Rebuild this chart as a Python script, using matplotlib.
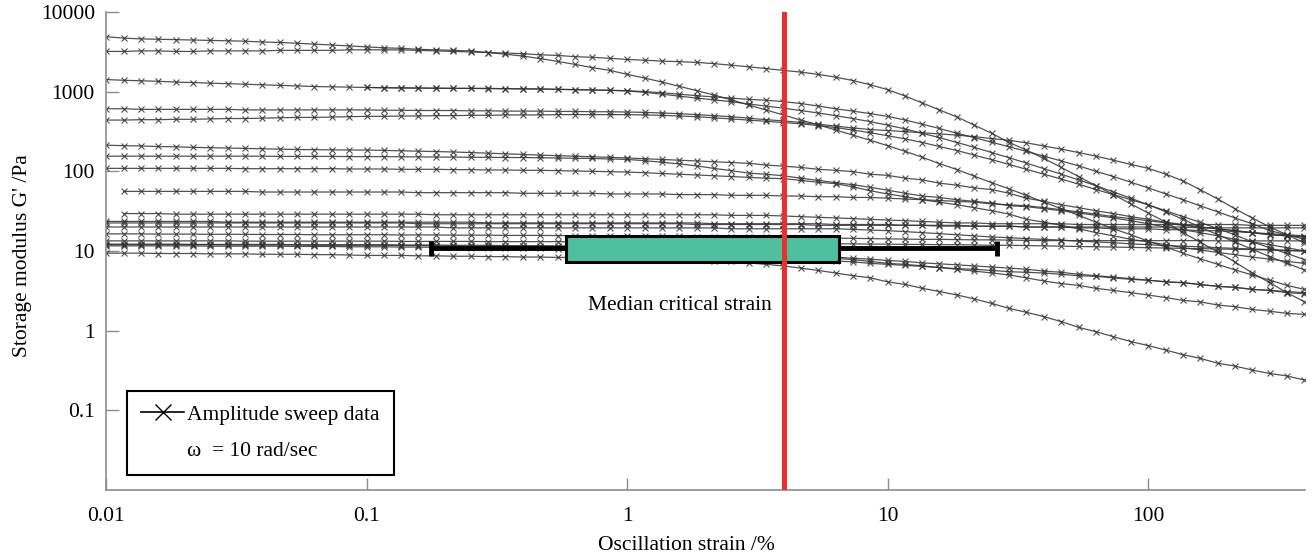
import numpy as np
import matplotlib
matplotlib.use("Agg")
import matplotlib.pyplot as plt
from matplotlib.patches import Rectangle
from matplotlib.lines import Line2D
from matplotlib.ticker import NullLocator

# ==========================
# Data
# ==========================
strain = [0.01, 0.0117, 0.0136, 0.0158, 0.0185, 0.0215, 0.0251, 0.0293, 0.0341, 0.0398, 0.0464, 0.0541, 0.0631, 0.0736, 0.0858,
          0.1, 0.117, 0.136, 0.158, 0.185, 0.215, 0.251, 0.293, 0.341, 0.398, 0.464, 0.541, 0.631, 0.736, 0.858,
          1.0, 1.17, 1.36, 1.58, 1.85, 2.15, 2.51, 2.93, 3.41, 3.98, 4.64, 5.41, 6.31, 7.36, 8.58,
          10, 11.7, 13.6, 15.8, 18.5, 21.5, 25.1, 29.3, 34.1, 39.8, 46.4, 54.1, 63.1, 73.6, 85.8,
          100, 117, 136, 158, 185, 215, 251, 293, 341, 398]

g_a = [4900, 4700, 4600, 4550, 4500, 4450, 4400, 4350, 4300, 4200, 4150, 4050, 3950, 3850, 3750,
       3650, 3550, 3500, 3400, 3350, 3300, 3250, 3100, 2950, 2800, 2600, 2400, 2200, 2000, 1850,
       1650, 1480, 1320, 1170, 1030, 910, 790, 680, 590, 510, 440, 385, 330, 285, 245,
       210, 178, 150, 125, 105, 87, 72, 60, 50, 41, 34, 28, 23, 19, 16,
       13.3, 11.2, 9.4, 8, 6.8, 5.8, 5, 4.3, 3.7, 3.3]
g_b = [3200, 3200, 3250, 3250, 3200, 3200, 3250, 3250, 3250, 3250, 3300, 3300, 3300, 3300, 3350,
       3350, 3350, 3350, 3300, 3250, 3200, 3150, 3100, 3050, 3000, 2900, 2850, 2750, 2700, 2620,
       2540, 2480, 2420, 2380, 2330, 2250, 2150, 2050, 1950, 1850, 1760, 1650, 1520, 1380, 1220,
       1060, 880, 720, 590, 480, 380, 300, 230, 185, 145, 112, 86, 66, 51, 39,
       30, 23, 17, 13, 9.7, 7.3, 5.3, 4.0, 3.0, 2.3]
g_c = [1420, 1390, 1370, 1350, 1320, 1300, 1280, 1260, 1240, 1220, 1200, 1180, 1160, 1150, 1140,
       1130, 1120, 1110, 1110, 1100, 1100, 1100, 1090, 1090, 1080, 1080, 1070, 1060, 1050, 1040,
       1030, 1000, 970, 930, 890, 860, 830, 800, 780, 750, 710, 660, 610, 570, 530,
       490, 440, 390, 345, 300, 265, 232, 203, 178, 155, 135, 117, 100, 86, 73,
       62, 52, 44, 37, 31, 26, 22, 18, 16, 14]
g_c2 = [None, None, None, None, None, None, None, None, None, None, None, None, None, None, None,
        1130, 1120, 1120, 1110, 1110, 1100, 1100, 1100, 1090, 1090, 1080, 1070, 1060, 1050, 1040,
        1020, 980, 930, 880, 830, 790, 750, 700, 660, 620, 580, 540, 500, 460, 420,
        380, 340, 300, 265, 230, 200, 172, 148, 127, 108, 92, 78, 66, 55, 46,
        38, 31, 25, 20, 16, 13, 10.5, 8.5, 7, 5.8]
g_e = [610, 610, 600, 600, 600, 600, 600, 600, 590, 590, 590, 590, 590, 590, 590,
       590, 585, 585, 580, 580, 580, 575, 575, 570, 570, 570, 565, 565, 560, 560,
       555, 550, 540, 530, 515, 500, 485, 465, 445, 430, 410, 390, 370, 350, 335,
       325, 315, 305, 295, 285, 272, 258, 245, 228, 208, 190, 172, 155, 138, 122,
       109, 92, 76, 59, 45, 34, 26, 20, 16, 12.6]
g_f = [440, 440, 445, 445, 450, 450, 455, 460, 460, 465, 470, 475, 475, 480, 485,
       490, 490, 495, 495, 500, 500, 505, 505, 510, 510, 510, 515, 515, 515, 515,
       515, 510, 505, 495, 485, 470, 455, 440, 425, 410, 395, 375, 355, 330, 305,
       280, 255, 230, 205, 182, 160, 140, 122, 106, 92, 80, 69, 59, 51, 44,
       38, 32, 27, 23, 19, 16, 13, 11, 9.3, 7.8]
g_g = [213, 210, 208, 205, 203, 200, 198, 196, 194, 192, 190, 188, 187, 186, 185,
       185, 183, 181, 179, 177, 175, 172, 169, 166, 163, 160, 157, 155, 152, 150,
       147, 144, 141, 138, 135, 132, 129, 126, 120, 116, 112, 106, 103, 99, 92,
       89, 82, 78, 71, 67, 62, 59, 53, 46, 42, 38, 35, 32, 29.5, 27,
       25, 23, 21.5, 20, 19, 18, 17, 16, 15.5, 15]
g_h = [155, 155, 155, 155, 155, 155, 155, 155, 155, 155, 154, 154, 154, 154, 153,
       153, 153, 152, 152, 151, 151, 150, 150, 149, 149, 148, 147, 146, 145, 143,
       141, 136, 130, 124, 117, 109, 102, 95, 92, 88, 82, 77, 72, 68, 63,
       58, 53, 49, 47, 44, 42, 40, 37, 36, 34, 32, 30, 28, 26, 24,
       22, 20, 18.5, 17, 15.5, 14, 13, 12, 11, 10]
g_i = [109, 109, 109, 109, 109, 109, 109, 109, 108, 108, 108, 108, 108, 108, 107,
       107, 107, 106, 106, 106, 105, 105, 104, 104, 103, 103, 102, 101, 100, 99,
       98, 96, 94, 92, 90, 88, 86, 84, 82, 81, 77, 73, 70, 64, 57,
       52, 48, 44, 41, 38, 35, 32, 29, 25, 23, 21, 19, 17, 15.5, 14,
       13, 12, 11, 10.3, 9.6, 9, 8.4, 7.9, 7.4, 7]
g_j = [None, 56, 56, 56, 56, 56, 56, 56, 56, 55, 55, 55, 55, 55, 55,
       55, 55, 55, 54, 54, 54, 54, 54, 54, 53, 53, 53, 53, 53, 52,
       52, 52, 52, 51, 51, 51, 50, 50, 50, 49, 49, 48, 48, 47, 47,
       46, 45, 44, 43, 42, 41, 39, 38, 37, 35, 33, 31, 29, 27, 25.5,
       24, 22.5, 21, 20, 19, 18, 17, 16, 15.5, 15]
g_r = [None, 29.5, 29.5, 29.5, 29, 29, 29, 29, 29, 29, 29, 29, 29, 29, 29,
       29, 29, 29, 29, 28.5, 28.5, 28.5, 28.5, 28.5, 28.5, 28.5, 28.5, 28.5, 28.5, 28.5,
       28.5, 28.5, 28.5, 28.5, 28.5, 28.5, 28, 28, 28, 27.5, 27, 26.5, 26, 25.5, 25,
       24.5, 24, 23.5, 23, 22.5, 22.5, 22, 22, 22, 22, 22, 21.5, 21.5, 21.5, 21.5,
       21.5, 21.5, 21.5, 21.5, 21.5, 21.5, 21, 21, 21, 21]
g_u1 = [23.5, 23.5, 23.5, 23.5, 23.5, 23.5, 23.5, 23, 23, 23, 23, 23, 23, 23, 23,
        23, 23, 23, 23, 23, 23, 23, 22.5, 22.5, 22.5, 22.5, 22.5, 22.5, 22.5, 22.5,
        22.5, 22.5, 22.5, 22.5, 22.5, 22, 22, 22, 22, 22, 22, 22, 21.5, 21.5, 21.5,
        21.5, 21, 21, 21, 21, 20.5, 20.5, 20.5, 20, 20, 20, 19.5, 19.5, 19, 19,
        19, 18.5, 18.5, 18, 18, 17.5, 17, 16.5, 16, 15.5]
g_u2 = [22.5, 22.5, 22.5, 22.5, 22.5, 22.5, 22.5, 22.5, 22.5, 22.5, 22.5, 22.5, 22.5, 22.5, 22.5,
        22.5, 22.5, 22.5, 22, 22, 22, 22, 22, 22, 22, 22, 22, 22, 22, 22,
        22, 22, 22, 22, 21.5, 21.5, 21.5, 21.5, 21.5, 21.5, 21.5, 21, 21, 21, 21,
        21, 21, 21, 20.5, 20.5, 20.5, 20.5, 20.5, 20, 20, 20, 20, 20, 20, 20,
        20, 20, 20, 19.5, 19.5, 19.5, 19.5, 19.5, 19.5, 19.5]
g_u3 = [20, 20, 20, 20, 20, 20, 20, 20, 20, 20, 20, 20, 20, 20, 20,
        20, 20, 20, 20, 20, 19.5, 19.5, 19.5, 19.5, 19.5, 19.5, 19.5, 19.5, 19.5, 19.5,
        19.5, 19.5, 19.5, 19.5, 19.5, 19.5, 19, 19, 19, 19, 19, 19, 19, 18.7, 18.3,
        18, 17.5, 17, 16.5, 16, 15.5, 15, 14.7, 14.3, 14, 13.7, 13.3, 13, 12.7, 12.3,
        12, 11.7, 11.5, 11.3, 11, 10.8, 10.6, 10.4, 10.2, 10]
g_l1 = [16.4, 16.4, 16.4, 16.3, 16.3, 16.3, 16.2, 16.2, 16.2, 16.1, 16.1, 16.1, 16, 16, 16,
        16, 16, 15.9, 15.9, 15.9, 15.8, 15.8, 15.8, 15.7, 15.7, 15.7, 15.6, 15.6, 15.6, 15.5,
        15.5, 15.4, 15.3, 15.3, 15.2, 15.1, 15, 15, 14.9, 14.8, 14.7, 14.6, 14.5, 14.4, 14.3,
        14.2, 14.1, 14, 14, 13.9, 13.8, 13.8, 13.7, 13.6, 13.5, 13.5, 13.5, 13.5, 13.5, 13.5,
        13.5, 13.5, 13.5, 13.5, 13.4, 13.4, 13.4, 13.4, 13.4, 13.4]
g_l2 = [13.4, 13.4, 13.4, 13.4, 13.4, 13.4, 13.4, 13.4, 13.3, 13.3, 13.3, 13.3, 13.3, 13.3, 13.3,
        13.3, 13.3, 13.2, 13.2, 13.2, 13.2, 13.2, 13.1, 13.1, 13.1, 13.1, 13.1, 13, 13, 13,
        13, 12.9, 12.9, 12.8, 12.8, 12.7, 12.7, 12.6, 12.6, 12.5, 12.5, 12.4, 12.3, 12.3, 12.2,
        12.2, 12.1, 12.1, 12, 12, 11.9, 11.8, 11.8, 11.7, 11.6, 11.5, 11.4, 11.3, 11.2, 11.1,
        11, 10.9, 10.8, 10.7, 10.6, 10.5, 10.4, 10.3, 10.1, 10]
g_l3 = [12.2, 12.2, 12.2, 12.2, 12.2, 12.1, 12.1, 12.1, 12.1, 12.1, 12.1, 12, 12, 12, 12,
        12, 12, 11.9, 11.9, 11.9, 11.8, 11.8, 11.8, 11.7, 11.7, 11.7, 11.6, 11.6, 11.6, 11.5,
        11.5, 11.3, 11.1, 10.9, 10.7, 10.5, 10.2, 9.9, 9.5, 9.2, 8.8, 8.5, 8.1, 7.8, 7.4,
        7.0, 6.8, 6.5, 6.2, 5.9, 5.6, 5.3, 5.0, 4.6, 4.2, 3.9, 3.7, 3.4, 3.2, 3.0,
        2.8, 2.6, 2.4, 2.3, 2.1, 2.0, 1.85, 1.75, 1.65, 1.6]
g_l4 = [12, 12, 12, 12, 12, 12, 12, 11.9, 11.9, 11.9, 11.9, 11.9, 11.8, 11.8, 11.8,
        11.8, 11.8, 11.7, 11.7, 11.6, 11.6, 11.5, 11.5, 11.4, 11.4, 11.3, 11.3, 11.2, 11.1, 11.1,
        11, 10.9, 10.8, 10.6, 10.4, 10.2, 10, 9.8, 9.5, 9.3, 9.0, 8.7, 8.4, 8.1, 7.9,
        7.6, 7.4, 7.1, 6.9, 6.7, 6.5, 6.3, 6.1, 5.9, 5.6, 5.4, 5.1, 4.9, 4.7, 4.5,
        4.3, 4.1, 4.0, 3.8, 3.6, 3.5, 3.3, 3.2, 3.0, 2.9]
g_l5 = [11.6, 11.6, 11.6, 11.6, 11.6, 11.6, 11.5, 11.5, 11.5, 11.5, 11.5, 11.4, 11.4, 11.4, 11.3,
        11.3, 11.3, 11.2, 11.2, 11.1, 11.1, 11, 11, 10.9, 10.9, 10.8, 10.7, 10.7, 10.6, 10.5,
        10.5, 10.3, 10.1, 9.9, 9.7, 9.5, 9.3, 9.0, 8.7, 8.3, 8.0, 7.8, 7.5, 7.3, 7.0,
        6.8, 6.6, 6.4, 6.2, 6.0, 5.9, 5.7, 5.5, 5.4, 5.3, 5.1, 4.9, 4.8, 4.6, 4.4,
        4.3, 4.1, 4.0, 3.8, 3.6, 3.5, 3.3, 3.2, 3.1, 3.0]
g_q = [9.4, 9.4, 9.4, 9.3, 9.3, 9.3, 9.2, 9.2, 9.2, 9.1, 9.1, 9.1, 9.0, 9.0, 8.9,
       8.8, 8.8, 8.8, 8.7, 8.7, 8.6, 8.6, 8.5, 8.5, 8.4, 8.4, 8.3, 8.3, 8.2, 8.1,
       8.0, 7.9, 7.8, 7.7, 7.6, 7.5, 7.4, 7.1, 6.8, 6.5, 6.1, 5.7, 5.3, 4.9, 4.6,
       4.1, 3.8, 3.4, 3.1, 2.8, 2.5, 2.2, 1.9, 1.7, 1.5, 1.3, 1.1, 0.97, 0.84, 0.73,
       0.65, 0.57, 0.50, 0.45, 0.39, 0.36, 0.32, 0.29, 0.27, 0.24]

sweeps = [g_a, g_b, g_c, g_c2, g_e, g_f, g_g, g_h, g_i, g_j, g_r,
          g_u1, g_u2, g_u3, g_l1, g_l2, g_l3, g_l4, g_l5, g_q]

# critical strain box (percent) and its vertical extent (Pa)
whisker_lo, box_q1, box_q3, whisker_hi = 0.177, 0.583, 6.5, 26.2
median_strain = 4.0
box_bottom, box_top = 7.2, 15.6
whisker_y = 10.8
cap_bottom, cap_top = 8.6, 13.5

xtick_vals = [0.01, 0.1, 1, 10, 100]
xtick_labels = ["0.01", "0.1", "1", "10", "100"]
ytick_vals = [0.1, 1, 10, 100, 1000, 10000]
ytick_labels = ["0.1", "1", "10", "100", "1000", "10000"]

# ==========================
# Plot
# ==========================
plt.rcParams["font.family"] = ["Liberation Serif", "DejaVu Serif"]
fs = 15.5

fig = plt.figure(figsize=(13.13, 5.56), dpi=100)
ax = fig.add_axes([106 / 1313, 66 / 556, 1199 / 1313, 478 / 556])

x = np.array(strain, dtype=float)
for vals in sweeps:
    y = np.array(vals, dtype=float)
    ax.plot(x, y, color="#333333", lw=0.9, alpha=0.85,
            marker="x", ms=4.5, mew=0.8, zorder=2)

ax.set_xscale("log")
ax.set_yscale("log")
ax.set_xlim(0.01, 400)
ax.set_ylim(0.01, 10000)

# box + whiskers
ax.add_patch(Rectangle((box_q1, box_bottom), box_q3 - box_q1, box_top - box_bottom,
                       facecolor="#50bfa0", edgecolor="black", lw=2.2, zorder=3))
ax.plot([whisker_lo, box_q1], [whisker_y, whisker_y], color="black", lw=3.5,
        solid_capstyle="butt", zorder=3)
ax.plot([box_q3, whisker_hi], [whisker_y, whisker_y], color="black", lw=3.5,
        solid_capstyle="butt", zorder=3)
ax.vlines([whisker_lo, whisker_hi], cap_bottom, cap_top, colors="black", lw=3.5, zorder=3)

# median line
ax.axvline(median_strain, color="#e8302e", lw=3.6, zorder=4)
ax.text(1.6, 2.05, "Median critical strain", ha="center", va="center",
        fontsize=fs, zorder=5)

# axes styling
for side in ["top", "right"]:
    ax.spines[side].set_visible(False)
for side in ["left", "bottom"]:
    ax.spines[side].set_color("0.55")
    ax.spines[side].set_linewidth(1.2)

ax.set_xticks(xtick_vals, xtick_labels)
ax.set_yticks(ytick_vals, ytick_labels)
ax.xaxis.set_minor_locator(NullLocator())
ax.yaxis.set_minor_locator(NullLocator())
ax.tick_params(direction="in", length=9, width=1, color="0.55", labelsize=fs)
ax.tick_params(axis="y", pad=8)
ax.tick_params(axis="x", pad=12)

ax.set_xlabel("Oscillation strain /%", fontsize=fs)
ax.xaxis.set_label_coords(0.484, -0.097)
ax.set_ylabel("Storage modulus G' /Pa", fontsize=fs)
ax.yaxis.set_label_coords(-0.062, 0.49)

# legend
h1 = Line2D([], [], color="black", lw=1.2, marker="x", ms=11, mew=1.0)
h2 = Line2D([], [], linestyle="none")
leg = ax.legend([h1, h2], ["Amplitude sweep data", "\u03c9  = 10 rad/sec"],
                loc="lower left", bbox_to_anchor=(0.0175, 0.031), borderaxespad=0,
                frameon=True, fancybox=False, edgecolor="black", framealpha=1,
                fontsize=fs, handlelength=2.0, handletextpad=0.15,
                borderpad=0.65, labelspacing=0.75)
leg.get_frame().set_linewidth(1.5)

fig.savefig("out.png", dpi=100)
